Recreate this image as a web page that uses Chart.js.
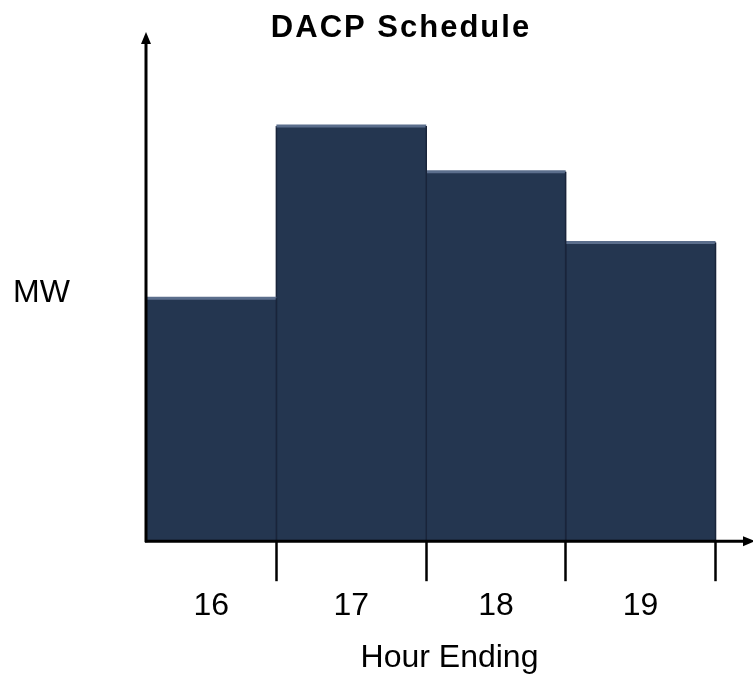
<!DOCTYPE html>
<html>
<head>
<meta charset="utf-8">
<script src="https://cdn.jsdelivr.net/npm/chart.js@4"></script>
<style>
  html, body { margin: 0; padding: 0; background: #fff; }
  #wrap { width: 753px; height: 677px; }
</style>
</head>
<body>
<div id="wrap"><canvas id="chart"></canvas></div>
<script>
// hour ending labels and where each block starts/ends on the hour axis
const hours = ['16', '17', '18', '19'];
const edges = [15.13, 16, 17, 17.93, 18.93];
const mw = [48, 82, 73, 59];
const xMax = 19.18;
const yMax = 100;

const barFill = '#243650';
const barEdge = '#19243a';
const barTop = '#5b6e8c';

const centers = hours.map((h, i) => (edges[i] + edges[i + 1]) / 2);

// one closed block per hour
const datasets = hours.map((h, i) => ({
  label: h,
  data: [
    { x: edges[i], y: 0 },
    { x: edges[i], y: mw[i] },
    { x: edges[i + 1], y: mw[i] },
    { x: edges[i + 1], y: 0 }
  ],
  xAxisID: 'x',
  fill: 'origin',
  backgroundColor: barFill,
  borderColor: barEdge,
  borderWidth: 1.5,
  pointRadius: 0,
  tension: 0,
  segment: {
    borderColor: c => c.p0DataIndex === 1 ? barTop : barEdge,
    borderWidth: c => c.p0DataIndex === 1 ? 3 : 1.5
  }
}));

const decor = {
  id: 'decor',
  afterDraw(chart) {
    const ctx = chart.ctx;
    const a = chart.chartArea;
    ctx.save();
    ctx.fillStyle = '#000';
    ctx.strokeStyle = '#000';
    ctx.lineWidth = 3;
    // y axis with arrow
    ctx.beginPath();
    ctx.moveTo(a.left, a.bottom + 1);
    ctx.lineTo(a.left, a.top + 6);
    ctx.stroke();
    ctx.beginPath();
    ctx.moveTo(a.left, a.top - 3);
    ctx.lineTo(a.left - 5, a.top + 9);
    ctx.lineTo(a.left + 5, a.top + 9);
    ctx.closePath();
    ctx.fill();
    // x axis with arrow
    ctx.beginPath();
    ctx.moveTo(a.left - 1, a.bottom);
    ctx.lineTo(chart.width - 6, a.bottom);
    ctx.stroke();
    ctx.beginPath();
    ctx.moveTo(chart.width + 2, a.bottom);
    ctx.lineTo(chart.width - 10, a.bottom - 5);
    ctx.lineTo(chart.width - 10, a.bottom + 5);
    ctx.closePath();
    ctx.fill();
    // title and y label
    ctx.font = 'bold 31px "Liberation Sans", Arial, sans-serif';
    ctx.letterSpacing = '2px';
    ctx.textAlign = 'center';
    ctx.textBaseline = 'alphabetic';
    ctx.fillText('DACP Schedule', 401, 37);
    ctx.letterSpacing = '0px';
    ctx.font = '32px "Liberation Sans", Arial, sans-serif';
    ctx.textAlign = 'left';
    ctx.fillText('MW', 13, 302);
    ctx.restore();
  }
};

new Chart(document.getElementById('chart'), {
  type: 'line',
  data: { datasets },
  options: {
    responsive: true,
    maintainAspectRatio: false,
    animation: false,
    layout: { padding: { left: 146, top: 35, right: 0, bottom: 0 } },
    plugins: {
      legend: { display: false },
      tooltip: { enabled: false },
      title: { display: false }
    },
    scales: {
      x: {
        type: 'linear',
        position: 'bottom',
        min: edges[0],
        max: xMax,
        afterBuildTicks: s => { s.ticks = edges.slice(1).map(v => ({ value: v })); },
        grid: {
          drawOnChartArea: false,
          drawTicks: true,
          tickLength: 40,
          tickWidth: 2.5,
          tickColor: '#000'
        },
        border: { display: false },
        ticks: { display: false }
      },
      xl: {
        type: 'linear',
        position: 'bottom',
        min: edges[0],
        max: xMax,
        afterBuildTicks: s => { s.ticks = centers.map(v => ({ value: v })); },
        grid: { display: false },
        border: { display: false },
        ticks: {
          padding: -2,
          color: '#000',
          maxRotation: 0,
          autoSkip: false,
          font: { family: '"Liberation Sans", Arial, sans-serif', size: 32 },
          callback: (v, i) => hours[i]
        },
        title: {
          display: true,
          text: 'Hour Ending',
          color: '#000',
          font: { family: '"Liberation Sans", Arial, sans-serif', size: 32 },
          padding: { top: 15, bottom: 0 }
        }
      },
      y: {
        display: false,
        min: 0,
        max: yMax
      }
    }
  },
  plugins: [decor]
});
</script>
</body>
</html>
